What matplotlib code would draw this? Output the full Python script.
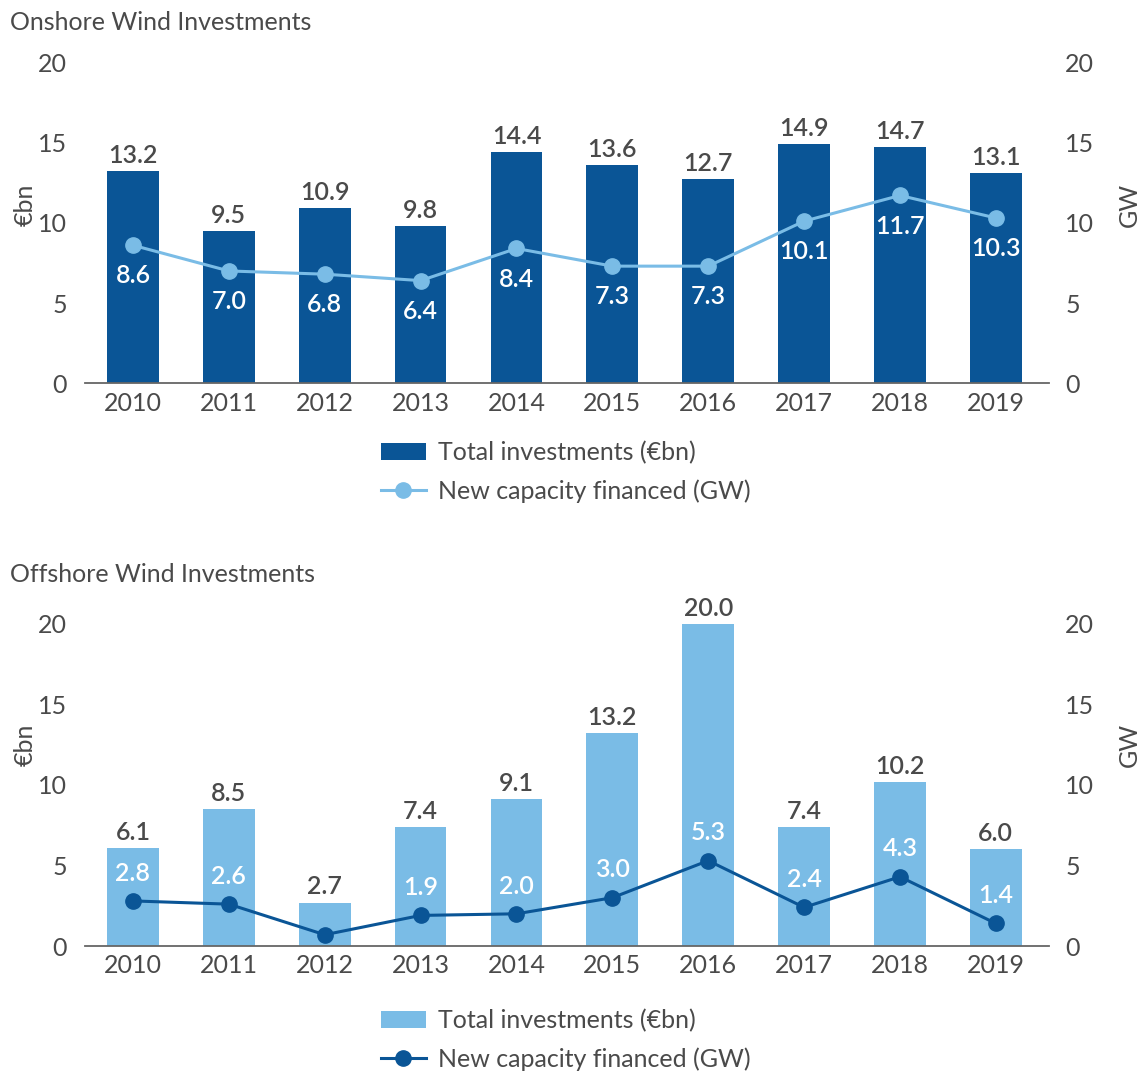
import matplotlib.pyplot as plt
import numpy as np

years = ['2010', '2011', '2012', '2013', '2014', '2015', '2016', '2017', '2018', '2019']

onshore_inv = [13.2, 9.5, 10.9, 9.8, 14.4, 13.6, 12.7, 14.9, 14.7, 13.1]
onshore_gw = [8.6, 7.0, 6.8, 6.4, 8.4, 7.3, 7.3, 10.1, 11.7, 10.3]
onshore_gw_labels = ['8.6', '7.0', '6.8', '6.4', '8.4', '7.3', '7.3', '10.1', '11.7', '10.3']

offshore_inv = [6.1, 8.5, 2.7, 7.4, 9.1, 13.2, 20.0, 7.4, 10.2, 6.0]
offshore_gw = [2.8, 2.6, 0.7, 1.9, 2.0, 3.0, 5.3, 2.4, 4.3, 1.4]
offshore_gw_labels = ['2.8', '2.6', '', '1.9', '2.0', '3.0', '5.3', '2.4', '4.3', '1.4']

DARK = '#0a5596'
LIGHT = '#7abce6'
TXT = '#4a4a4a'
FS = 18

plt.rcParams['font.family'] = ['Lato', 'DejaVu Sans']
plt.rcParams['font.size'] = FS


def draw(ax, inv, gw, gw_labels, bar_col, line_col, label_dy, title, title_y, leg_y, ylab_y):
    x = np.arange(len(years))
    bars = ax.bar(x, inv, width=0.54, color=bar_col, zorder=2)
    ax.bar_label(bars, labels=[f'{v:.1f}' for v in inv], padding=3,
                 color=TXT, fontsize=FS, fontweight='semibold')
    ax.set_xlim(-0.5, 9.55)
    ax.set_ylim(0, 20)
    ax.set_yticks([0, 5, 10, 15, 20])
    ax.set_xticks(x, years)
    for s in ['top', 'left', 'right']:
        ax.spines[s].set_visible(False)
    ax.spines['bottom'].set_color('#666666')
    ax.spines['bottom'].set_linewidth(1.3)
    ax.tick_params(axis='y', length=0, pad=13, colors=TXT, labelsize=FS)
    ax.tick_params(axis='x', length=0, pad=6, colors=TXT, labelsize=FS)
    ax.set_ylabel('€bn', color=TXT, fontsize=FS)
    ax.yaxis.set_label_coords(-0.05, ylab_y)

    ax2 = ax.twinx()
    ax2.set_ylim(0, 20)
    ax2.set_yticks([0, 5, 10, 15, 20])
    for s in ['top', 'left', 'right', 'bottom']:
        ax2.spines[s].set_visible(False)
    ax2.tick_params(axis='y', length=0, pad=12, colors=TXT, labelsize=FS)
    ax2.set_ylabel('GW', color=TXT, fontsize=FS)
    ax2.yaxis.set_label_coords(1.072, ylab_y)
    ln, = ax2.plot(x, gw, color=line_col, lw=2.2, marker='o', ms=11, zorder=3)
    for xi, yi, lab in zip(x, gw, gw_labels):
        if lab:
            ax2.annotate(lab, (xi, yi), xytext=(0, label_dy), textcoords='offset points',
                         ha='center', va='center', color='white', fontsize=FS,
                         fontweight='semibold')

    fig.text(10 / 1143, title_y, title, color=TXT, fontsize=FS, va='center', ha='left')
    fig.legend([bars, ln], ['Total investments (€bn)', 'New capacity financed (GW)'],
               loc='center', bbox_to_anchor=(566 / 1143, leg_y), frameon=False,
               fontsize=FS, labelcolor=TXT, handlelength=1.8, handletextpad=0.5,
               labelspacing=0.6)


fig = plt.figure(figsize=(11.43, 10.71), dpi=100)
ax_on = fig.add_axes([0.0744, 0.642, 0.843, 0.300])
ax_off = fig.add_axes([0.0744, 0.1167, 0.843, 0.3007])

draw(ax_on, onshore_inv, onshore_gw, onshore_gw_labels, DARK, LIGHT, -22,
     'Onshore Wind Investments', 1 - 22 / 1071, 1 - 472 / 1071, 0.555)
draw(ax_off, offshore_inv, offshore_gw, offshore_gw_labels, LIGHT, DARK, 20,
     'Offshore Wind Investments', 1 - 575 / 1071, 1 - 1040 / 1071, 0.624)

fig.savefig('out.png', dpi=100)
